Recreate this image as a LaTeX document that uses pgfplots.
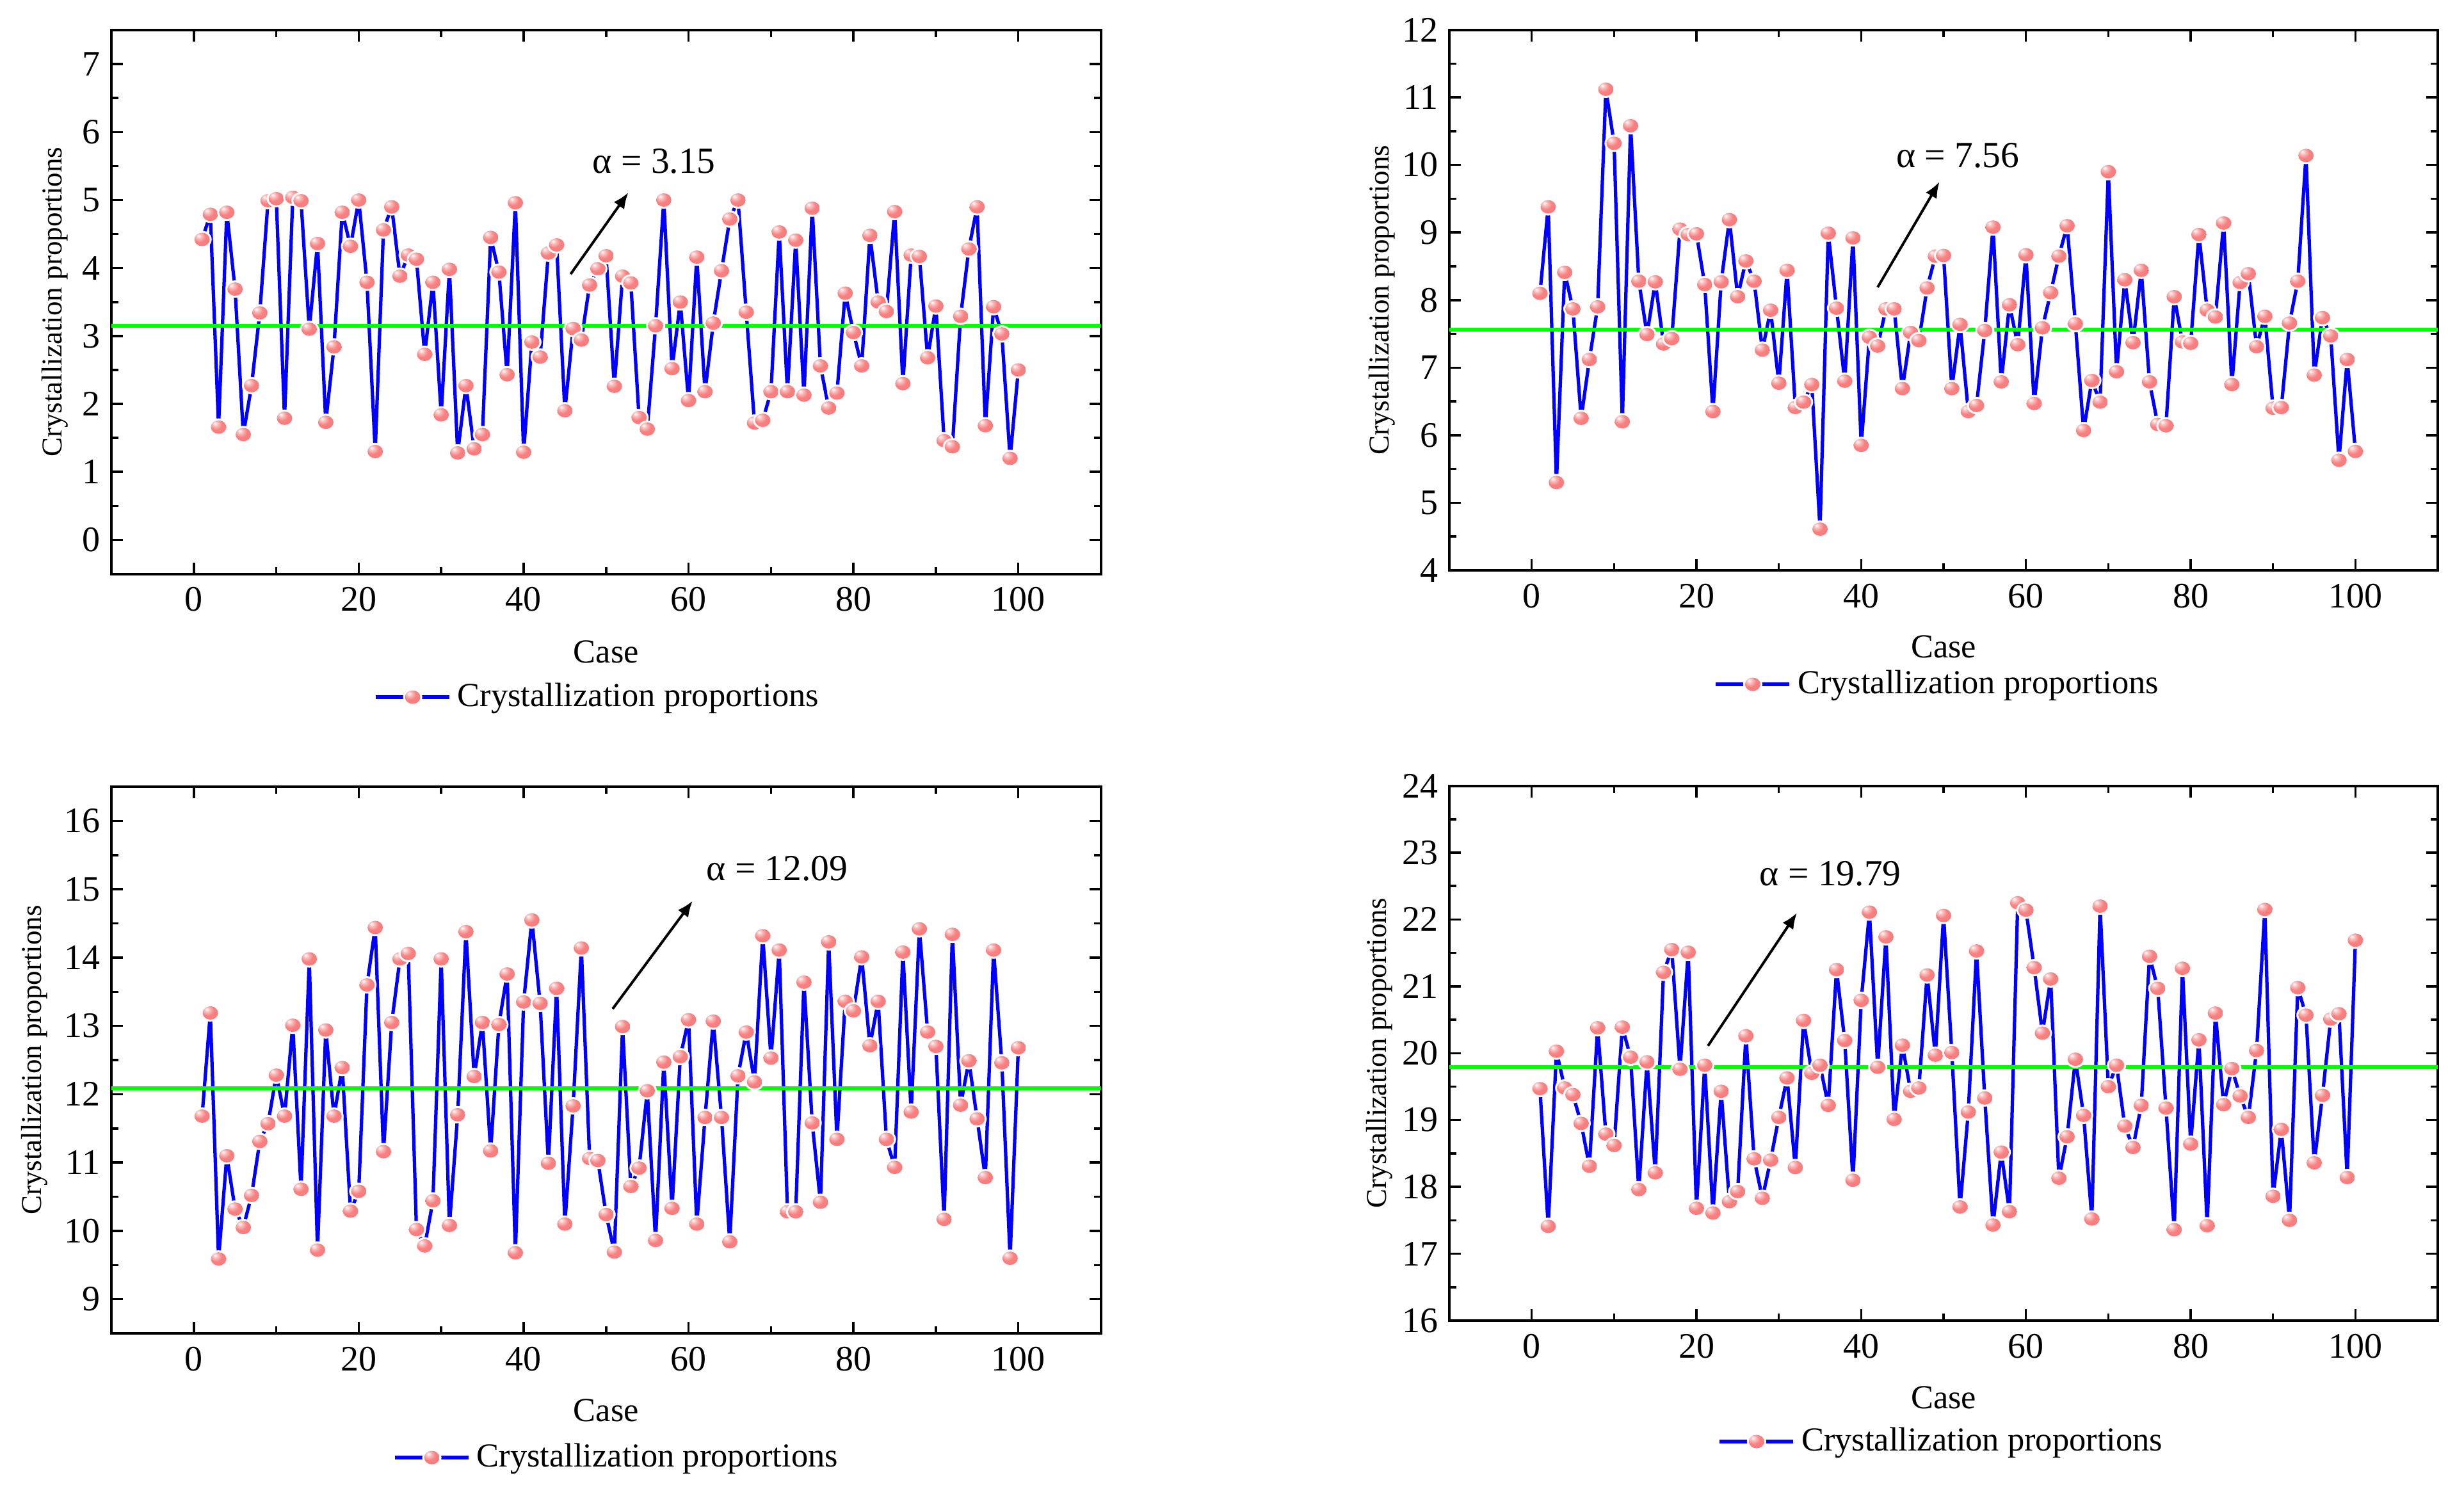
\documentclass[border=0pt]{standalone}
\usepackage{fontspec}
\setmainfont{Liberation Serif}
\usepackage{pgfplots}
\usepackage{pgfplotstable}
\pgfplotsset{compat=1.18}
\usetikzlibrary{arrows.meta}

\definecolor{ballc}{RGB}{250,128,128}
\pgfdeclareradialshading{pinkball}{\pgfpoint{-12bp}{14bp}}{%
 color(0bp)=(white); color(8bp)=(white!50!ballc); color(20bp)=(ballc); color(70bp)=(ballc!90!black)}
\pgfdeclareplotmark{pball}{%
  \pgfpathellipse{\pgfpointorigin}{\pgfqpoint{3.0pt}{0pt}}{\pgfqpoint{0pt}{2.7pt}}%
  \pgfsetfillcolor{white}%
  \pgfusepathqfill
  \pgfpathellipse{\pgfpointorigin}{\pgfqpoint{2.4pt}{0pt}}{\pgfqpoint{0pt}{2.1pt}}%
  \pgfshadepath{pinkball}{0}%
  \pgfusepath{discard}%
}

\pgfplotstableread{
x y
1 4.42
2 4.79
3 1.66
4 4.82
5 3.69
6 1.55
7 2.27
8 3.34
9 4.99
10 5.02
11 1.79
12 5.04
13 4.99
14 3.10
15 4.36
16 1.73
17 2.84
18 4.82
19 4.32
20 5.00
21 3.79
22 1.30
23 4.56
24 4.90
25 3.88
26 4.19
27 4.13
28 2.73
29 3.79
30 1.84
31 3.98
32 1.28
33 2.27
34 1.34
35 1.55
36 4.45
37 3.94
38 2.43
39 4.96
40 1.29
41 2.91
42 2.69
43 4.22
44 4.34
45 1.90
46 3.11
47 2.94
48 3.75
49 3.99
50 4.18
51 2.26
52 3.88
53 3.78
54 1.80
55 1.63
56 3.15
57 5.00
58 2.52
59 3.50
60 2.05
61 4.16
62 2.18
63 3.19
64 3.96
65 4.72
66 5.00
67 3.35
68 1.72
69 1.76
70 2.18
71 4.53
72 2.18
73 4.41
74 2.13
75 4.88
76 2.56
77 1.94
78 2.16
79 3.63
80 3.05
81 2.56
82 4.48
83 3.50
84 3.36
85 4.83
86 2.30
87 4.19
88 4.17
89 2.68
90 3.44
91 1.46
92 1.37
93 3.29
94 4.28
95 4.90
96 1.68
97 3.43
98 3.03
99 1.20
100 2.50
}\dataA

\pgfplotstableread{
x y
1 8.10
2 9.38
3 5.30
4 8.41
5 7.87
6 6.25
7 7.12
8 7.90
9 11.12
10 10.32
11 6.20
12 10.58
13 8.28
14 7.49
15 8.27
16 7.35
17 7.43
18 9.05
19 8.97
20 8.98
21 8.23
22 6.35
23 8.27
24 9.19
25 8.05
26 8.58
27 8.28
28 7.26
29 7.85
30 6.77
31 8.44
32 6.41
33 6.49
34 6.75
35 4.61
36 8.99
37 7.88
38 6.80
39 8.92
40 5.85
41 7.45
42 7.32
43 7.87
44 7.87
45 6.69
46 7.52
47 7.40
48 8.18
49 8.65
50 8.66
51 6.69
52 7.64
53 6.35
54 6.44
55 7.55
56 9.08
57 6.79
58 7.93
59 7.34
60 8.67
61 6.47
62 7.59
63 8.11
64 8.65
65 9.10
66 7.65
67 6.07
68 6.81
69 6.49
70 9.90
71 6.94
72 8.30
73 7.37
74 8.44
75 6.79
76 6.16
77 6.14
78 8.05
79 7.38
80 7.36
81 8.97
82 7.85
83 7.75
84 9.14
85 6.75
86 8.26
87 8.39
88 7.31
89 7.76
90 6.40
91 6.41
92 7.66
93 8.28
94 10.14
95 6.89
96 7.74
97 7.47
98 5.63
99 7.12
100 5.76
}\dataB

\pgfplotstableread{
x y
1 11.68
2 13.19
3 9.59
4 11.10
5 10.32
6 10.05
7 10.52
8 11.31
9 11.57
10 12.28
11 11.68
12 13.01
13 10.61
14 13.98
15 9.72
16 12.94
17 11.68
18 12.39
19 10.29
20 10.58
21 13.60
22 14.44
23 11.16
24 13.05
25 13.98
26 14.06
27 10.02
28 9.78
29 10.44
30 13.98
31 10.08
32 11.70
33 14.38
34 12.26
35 13.05
36 11.17
37 13.02
38 13.76
39 9.68
40 13.35
41 14.55
42 13.33
43 10.99
44 13.55
45 10.10
46 11.83
47 14.14
48 11.06
49 11.03
50 10.24
51 9.69
52 12.99
53 10.65
54 10.92
55 12.05
56 9.86
57 12.47
58 10.33
59 12.55
60 13.09
61 10.10
62 11.66
63 13.07
64 11.66
65 9.84
66 12.27
67 12.91
68 12.18
69 14.32
70 12.53
71 14.11
72 10.28
73 10.28
74 13.64
75 11.58
76 10.42
77 14.23
78 11.34
79 13.36
80 13.22
81 14.01
82 12.71
83 13.36
84 11.34
85 10.93
86 14.08
87 11.74
88 14.42
89 12.91
90 12.70
91 10.17
92 14.34
93 11.84
94 12.49
95 11.64
96 10.78
97 14.11
98 12.46
99 9.60
100 12.68
}\dataC

\pgfplotstableread{
x y
1 19.47
2 17.41
3 20.03
4 19.48
5 19.38
6 18.95
7 18.31
8 20.38
9 18.79
10 18.62
11 20.39
12 19.94
13 17.96
14 19.87
15 18.21
16 21.21
17 21.55
18 19.76
19 21.51
20 17.68
21 19.82
22 17.61
23 19.43
24 17.78
25 17.93
26 20.26
27 18.42
28 17.83
29 18.40
30 19.04
31 19.63
32 18.29
33 20.49
34 19.70
35 19.82
36 19.22
37 21.25
38 20.19
39 18.10
40 20.79
41 22.11
42 19.79
43 21.74
44 19.01
45 20.12
46 19.43
47 19.48
48 21.17
49 19.97
50 22.06
51 20.01
52 17.70
53 19.12
54 21.53
55 19.33
56 17.43
57 18.52
58 17.63
59 22.25
60 22.14
61 21.28
62 20.30
63 21.11
64 18.13
65 18.75
66 19.91
67 19.07
68 17.52
69 22.20
70 19.50
71 19.82
72 18.91
73 18.59
74 19.22
75 21.45
76 20.97
77 19.18
78 17.36
79 21.27
80 18.64
81 20.20
82 17.42
83 20.60
84 19.23
85 19.77
86 19.36
87 19.04
88 20.04
89 22.15
90 17.86
91 18.86
92 17.50
93 20.98
94 20.57
95 18.36
96 19.37
97 20.51
98 20.59
99 18.14
100 21.69
}\dataD

\pgfplotsset{
  panel/.style={
    scale only axis, anchor=south west,
    xmin=-10, xmax=110, xtick={0,20,...,100},
    minor x tick num=1, minor y tick num=1,
    tick align=inside, major tick length=3.6pt, minor tick length=2.2pt,
    axis line style={line width=0.8pt},
    every tick/.style={black, line width=0.7pt},
    /pgf/number format/assume math mode=true,
    tick label style={font=\fontsize{11.2}{13}\selectfont},
    xticklabel style={anchor=center, yshift=-8pt},
    xlabel={Case},
    ylabel={Crystallization proportions},
    xlabel style={at={(axis description cs:0.5,0)}, anchor=center, font=\fontsize{10.5}{12}\selectfont},
    ylabel style={anchor=center, font=\fontsize{9}{11}\selectfont},
    legend style={at={(axis description cs:0.5,0)}, anchor=center, draw=none, fill=none,
      font=\fontsize{10.5}{12}\selectfont, inner sep=0pt},
  },
  ballleg/.style={legend image code/.code={
      \draw[line width=1.05pt, blue] (0pt,0pt) -- (23pt,0pt);
      \begin{pgfscope}\pgftransformshift{\pgfqpoint{11.5pt}{0pt}}\pgfuseplotmark{pball}\end{pgfscope}
  }},
  bline/.style={blue, line width=1.05pt, line join=round, mark=none, forget plot},
}

\begin{document}
\begin{tikzpicture}
\useasboundingbox (0,0) rectangle (769.8pt,464.4pt);

% Panel 1
\begin{axis}[panel, at={(34.8pt,285.1pt)}, width=309.1pt, height=169.9pt,
  ymin=-0.5, ymax=7.5, ytick={0,...,7},
  ylabel style={at={(axis description cs:-0.057,0.5)}},
  xlabel style={yshift=-24.3pt},
  legend style={yshift=-38.5pt, xshift=-2pt}]
\addlegendimage{ballleg}
\addlegendentry{Crystallization proportions}
\addplot[bline] table {\dataA};
\addplot[green, line width=1.1pt, mark=none, forget plot] coordinates {(-10,3.15) (110,3.15)};
\addplot[only marks, mark=pball, forget plot] table {\dataA};
\draw[-{Latex[length=5pt,width=4pt]}, line width=0.8pt] (axis cs:45.7,3.91) -- (axis cs:52.7,5.11);
\node[anchor=west, inner sep=0pt, font=\fontsize{11.5}{13}\selectfont] at (axis cs:48.3,5.57) {α = 3.15};
\end{axis}

% Panel 2
\begin{axis}[panel, at={(452.8pt,286.2pt)}, width=308.8pt, height=168.9pt,
  ymin=4, ymax=12, ytick={4,...,12},
  ylabel style={at={(axis description cs:-0.068,0.5)}},
  xlabel style={yshift=-23.8pt},
  legend style={yshift=-35.6pt, xshift=-1.2pt}]
\addlegendimage{ballleg}
\addlegendentry{Crystallization proportions}
\addplot[bline] table {\dataB};
\addplot[green, line width=1.1pt, mark=none, forget plot] coordinates {(-10,7.56) (110,7.56)};
\addplot[only marks, mark=pball, forget plot] table {\dataB};
\draw[-{Latex[length=5pt,width=4pt]}, line width=0.8pt] (axis cs:42.0,8.19) -- (axis cs:49.5,9.75);
\node[anchor=west, inner sep=0pt, font=\fontsize{11.5}{13}\selectfont] at (axis cs:44.2,10.14) {α = 7.56};
\end{axis}

% Panel 3
\begin{axis}[panel, at={(34.8pt,47.8pt)}, width=309.1pt, height=170.8pt,
  ymin=8.5, ymax=16.5, ytick={9,...,16},
  ylabel style={at={(axis description cs:-0.078,0.5)}},
  xlabel style={yshift=-24pt},
  legend style={yshift=-38.8pt, xshift=4pt}]
\addlegendimage{ballleg}
\addlegendentry{Crystallization proportions}
\addplot[bline] table {\dataC};
\addplot[green, line width=1.1pt, mark=none, forget plot] coordinates {(-10,12.09) (110,12.09)};
\addplot[only marks, mark=pball, forget plot] table {\dataC};
\draw[-{Latex[length=5pt,width=4pt]}, line width=0.8pt] (axis cs:50.8,13.25) -- (axis cs:60.5,14.83);
\node[anchor=west, inner sep=0pt, font=\fontsize{11.5}{13}\selectfont] at (axis cs:62.1,15.30) {α = 12.09};
\end{axis}

% Panel 4
\begin{axis}[panel, at={(452.8pt,51.8pt)}, width=308.8pt, height=167.1pt,
  ymin=16, ymax=24, ytick={16,...,24},
  ylabel style={at={(axis description cs:-0.071,0.5)}},
  xlabel style={yshift=-24pt},
  legend style={yshift=-37.8pt}]
\addlegendimage{ballleg}
\addlegendentry{Crystallization proportions}
\addplot[bline] table {\dataD};
\addplot[green, line width=1.1pt, mark=none, forget plot] coordinates {(-10,19.79) (110,19.79)};
\addplot[only marks, mark=pball, forget plot] table {\dataD};
\draw[-{Latex[length=5pt,width=4pt]}, line width=0.8pt] (axis cs:21.4,20.11) -- (axis cs:32.2,22.10);
\node[anchor=west, inner sep=0pt, font=\fontsize{11.5}{13}\selectfont] at (axis cs:27.6,22.69) {α = 19.79};
\end{axis}
\end{tikzpicture}
\end{document}
